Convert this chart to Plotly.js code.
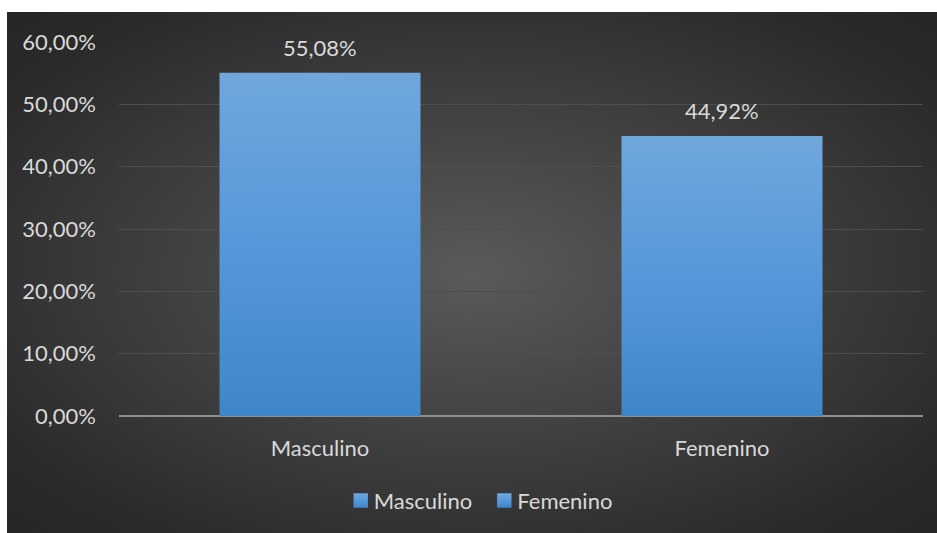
<!DOCTYPE html>
<html>
<head>
<meta charset="utf-8">
<script src="https://cdn.plot.ly/plotly-3.0.1.min.js"></script>
<style>
html,body{margin:0;padding:0;background:#ffffff;width:937px;height:533px;overflow:hidden;}
#chart{position:absolute;left:7px;top:12px;width:930px;height:521px;
background:radial-gradient(ellipse at 50% 50%, #5a5a5a 0%, #464646 35%, #2a2a2a 85%, #262626 100%);}
</style>
</head>
<body>
<div id="chart"></div>
<script>
const categories = ["Masculino", "Femenino"];
const values = [55.08, 44.92];
const tickVals = [0, 10, 20, 30, 40, 50, 60];
const tickText = ["0,00%", "10,00%", "20,00%", "30,00%", "40,00%", "50,00%", "60,00%"];
const labels = ["55,08%", "44,92%"];

const barColor = "#5b9bd5";
const fontFam = "Lato, 'Open Sans', sans-serif";
const fsize = 22;

const traces = categories.map((c, i) => ({
  type: "bar",
  name: c,
  x: [c],
  y: [values[i]],
  marker: {color: barColor},
  hoverinfo: "none"
}));

const annotations = categories.map((c, i) => ({
  x: c, y: values[i], xref: "x", yref: "y",
  text: labels[i], showarrow: false, yanchor: "bottom", yshift: 10,
  font: {family: fontFam, size: fsize, color: "#d9d9d9"}
}));

const layout = {
  width: 930, height: 521,
  paper_bgcolor: "rgba(0,0,0,0)",
  plot_bgcolor: "rgba(0,0,0,0)",
  margin: {l: 112, r: 14, t: 30, b: 117},
  barmode: "overlay",
  bargap: 0.5,
  showlegend: true,
  legend: {
    orientation: "h", xref: "container", yref: "container",
    x: 0.504, xanchor: "center", y: 0.062, yanchor: "middle",
    font: {family: fontFam, size: fsize, color: "#d9d9d9"},
    bgcolor: "rgba(0,0,0,0)", itemwidth: 30, tracegroupgap: 0
  },
  xaxis: {
    categoryorder: "array", categoryarray: categories,
    showgrid: false, showline: false, zeroline: false,
    ticks: "", ticklabelstandoff: 17,
    tickfont: {family: fontFam, size: fsize, color: "#d9d9d9"}
  },
  yaxis: {
    range: [0, 60], tickvals: tickVals, ticktext: tickText,
    showgrid: true, gridcolor: "#4e4e4e", gridwidth: 1,
    zeroline: true, zerolinecolor: "#8f8f8f", zerolinewidth: 2,
    showline: false, ticks: "", ticklabelstandoff: 22,
    tickfont: {family: fontFam, size: fsize, color: "#d9d9d9"}
  },
  annotations: annotations
};

Plotly.newPlot("chart", traces, layout, {displayModeBar: false, staticPlot: true}).then(gd => {
  const svg = gd.querySelector("svg.main-svg");
  const ns = "http://www.w3.org/2000/svg";
  let defs = svg.querySelector("defs");
  if (!defs) { defs = document.createElementNS(ns, "defs"); svg.insertBefore(defs, svg.firstChild); }
  const g = document.createElementNS(ns, "linearGradient");
  g.setAttribute("id", "barGrad");
  g.setAttribute("x1", "0"); g.setAttribute("y1", "0");
  g.setAttribute("x2", "0"); g.setAttribute("y2", "1");
  [["0", "#70a7dd"], ["0.5", "#5598d9"], ["1", "#3f86c8"]].forEach(([o, c]) => {
    const s = document.createElementNS(ns, "stop");
    s.setAttribute("offset", o); s.setAttribute("stop-color", c);
    g.appendChild(s);
  });
  defs.appendChild(g);
  gd.querySelectorAll(".bars path").forEach(p => {
    p.style.fill = "url(#barGrad)";
  });
  gd.querySelectorAll(".legend .legendpoints path").forEach(p => {
    p.style.fill = "url(#barGrad)";
    p.setAttribute("transform", "translate(27,0) scale(1.2)");
  });
});
</script>
</body>
</html>
